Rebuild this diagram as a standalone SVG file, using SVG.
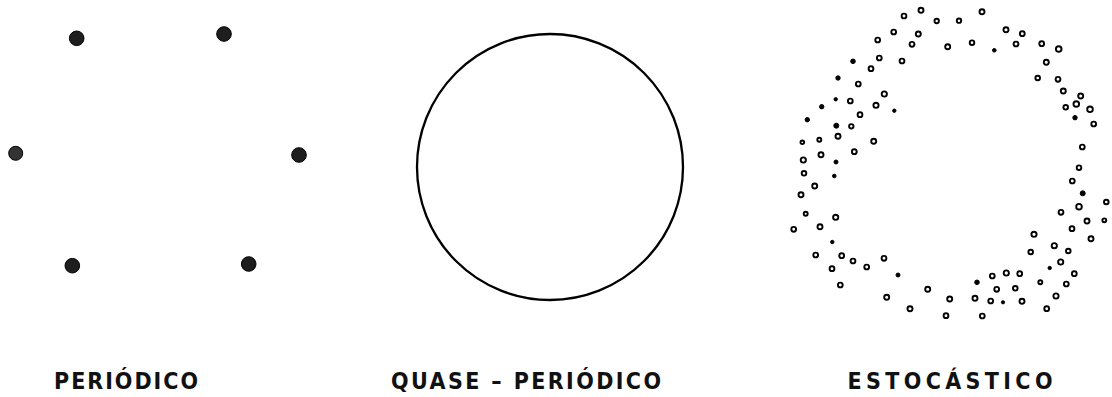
<svg xmlns="http://www.w3.org/2000/svg" width="1112" height="397" viewBox="0 0 1112 397">
<style>
.pd{fill:#1e1e1e;stroke:#000;stroke-width:1}
.r{fill:#fff;stroke:#000;stroke-width:1.9}
.s{fill:#000;stroke:#000;stroke-width:1}
.lbl{font-family:"DejaVu Sans Condensed","DejaVu Sans","Liberation Sans",sans-serif;font-stretch:condensed;font-size:23px;font-weight:bold;fill:#111}
</style>
<rect width="1112" height="397" fill="#fff"/>
<g id="periodico">
<circle class="pd" cx="76.7" cy="38.3" r="7.3"/>
<circle class="pd" cx="224" cy="34" r="7.3"/>
<circle class="pd" cx="15.7" cy="153.3" r="7" style="fill:#333"/>
<circle class="pd" cx="299" cy="155" r="7.3"/>
<circle class="pd" cx="72.3" cy="265.7" r="7.3"/>
<circle class="pd" cx="248.7" cy="264" r="7.3"/>
<text class="lbl" x="54" y="389" textLength="144" lengthAdjust="spacing">PERIÓDICO</text>
</g>
<g id="quase-periodico">
<circle cx="550" cy="167" r="133" fill="none" stroke="#000" stroke-width="2.3"/>
<text class="lbl" x="391" y="389" textLength="270" lengthAdjust="spacing">QUASE – PERIÓDICO</text>
</g>
<g id="estocastico">
<circle class="r" cx="904" cy="16" r="2.4"/>
<circle class="r" cx="921" cy="10.3" r="2.5"/>
<circle class="r" cx="936.7" cy="21" r="2.2"/>
<circle class="r" cx="959" cy="20.7" r="2.2"/>
<circle class="r" cx="982" cy="11.7" r="2.5"/>
<circle class="r" cx="893.7" cy="32" r="2.4"/>
<circle class="r" cx="918.3" cy="34" r="2.5"/>
<circle class="r" cx="1006" cy="29.7" r="2.5"/>
<circle class="r" cx="1022.3" cy="33.7" r="2.4"/>
<circle class="r" cx="877.7" cy="40" r="2.4"/>
<circle class="r" cx="912" cy="44.3" r="2.4"/>
<circle class="r" cx="947.7" cy="46.7" r="2.5"/>
<circle class="r" cx="972" cy="42.7" r="2.3"/>
<circle class="s" cx="994.3" cy="50.3" r="1.8"/>
<circle class="r" cx="1016" cy="44" r="2.4"/>
<circle class="r" cx="1041.7" cy="43.7" r="2.4"/>
<circle class="r" cx="1058.7" cy="49" r="2.8"/>
<circle class="s" cx="853" cy="61.3" r="2.3"/>
<circle class="r" cx="879.3" cy="58" r="2.4"/>
<circle class="r" cx="902" cy="61" r="2.4"/>
<circle class="r" cx="871" cy="68.7" r="2.4"/>
<circle class="r" cx="1046.3" cy="62.3" r="2.5"/>
<circle class="s" cx="838" cy="78" r="2.2"/>
<circle class="r" cx="858.3" cy="84" r="2.4"/>
<circle class="r" cx="1037.7" cy="78" r="2.3"/>
<circle class="r" cx="1058" cy="79.3" r="2.4"/>
<circle class="r" cx="884.3" cy="94" r="2.6"/>
<circle class="r" cx="1063.3" cy="91" r="2.5"/>
<circle class="r" cx="1080.7" cy="96" r="2.5"/>
<circle class="s" cx="835.7" cy="99.3" r="1.7"/>
<circle class="r" cx="850.3" cy="101" r="2.4"/>
<circle class="s" cx="821.7" cy="106.7" r="2.2"/>
<circle class="r" cx="876" cy="105.3" r="2.6"/>
<circle class="s" cx="894.3" cy="110.7" r="1.7"/>
<circle class="r" cx="1065.7" cy="107.3" r="2.3"/>
<circle class="r" cx="1076.3" cy="104" r="2.8"/>
<circle class="r" cx="1090" cy="109.3" r="2.8"/>
<circle class="r" cx="860" cy="114.7" r="2.4"/>
<circle class="s" cx="807.3" cy="119.7" r="2.2"/>
<circle class="s" cx="836.3" cy="125.7" r="2.5"/>
<circle class="r" cx="851.3" cy="126.3" r="2.2"/>
<circle class="s" cx="1075" cy="117.7" r="2.2"/>
<circle class="r" cx="1093.7" cy="124" r="2.4"/>
<circle class="r" cx="802.3" cy="142.3" r="1.8"/>
<circle class="r" cx="819.3" cy="139.7" r="2"/>
<circle class="r" cx="838" cy="136.3" r="2.5"/>
<circle class="r" cx="873.7" cy="141.3" r="2.5"/>
<circle class="r" cx="1082.3" cy="147" r="2.4"/>
<circle class="r" cx="803.3" cy="160" r="2.6"/>
<circle class="r" cx="821" cy="154.7" r="2.5"/>
<circle class="s" cx="836" cy="162" r="2"/>
<circle class="r" cx="854.3" cy="151.7" r="2.4"/>
<circle class="r" cx="1079" cy="167.7" r="2.3"/>
<circle class="r" cx="804" cy="173.3" r="2.3"/>
<circle class="s" cx="834.3" cy="176" r="1.8"/>
<circle class="r" cx="814.7" cy="186" r="2.5"/>
<circle class="r" cx="801" cy="194.7" r="2.5"/>
<circle class="r" cx="805.7" cy="213.7" r="2"/>
<circle class="r" cx="835.7" cy="217.3" r="2.6"/>
<circle class="r" cx="793.7" cy="229.3" r="2.4"/>
<circle class="r" cx="820" cy="226.7" r="2.5"/>
<circle class="s" cx="832.3" cy="242" r="1.7"/>
<circle class="r" cx="815.7" cy="255" r="2.4"/>
<circle class="r" cx="841.7" cy="255.7" r="2.4"/>
<circle class="r" cx="853" cy="261" r="2.4"/>
<circle class="r" cx="866.7" cy="267" r="2.4"/>
<circle class="r" cx="884" cy="258.3" r="2.4"/>
<circle class="r" cx="832" cy="268.7" r="2.4"/>
<circle class="r" cx="840.3" cy="285" r="2.4"/>
<circle class="s" cx="898" cy="275" r="2"/>
<circle class="r" cx="886.7" cy="297.3" r="2.5"/>
<circle class="r" cx="910" cy="308.7" r="2.5"/>
<circle class="r" cx="927.7" cy="289.3" r="2.5"/>
<circle class="r" cx="949.7" cy="299" r="2.5"/>
<circle class="r" cx="946" cy="315.7" r="2.4"/>
<circle class="r" cx="975" cy="298.3" r="2.5"/>
<circle class="r" cx="982.3" cy="316" r="2.4"/>
<circle class="s" cx="977" cy="282.3" r="2.3"/>
<circle class="r" cx="992.3" cy="276" r="2.4"/>
<circle class="r" cx="1006.3" cy="273" r="2.6"/>
<circle class="r" cx="1019.7" cy="273.7" r="2.4"/>
<circle class="r" cx="996.7" cy="289.3" r="2.4"/>
<circle class="r" cx="1015.3" cy="288.3" r="2.3"/>
<circle class="r" cx="990.7" cy="301" r="2.4"/>
<circle class="s" cx="1003" cy="302.3" r="1.6"/>
<circle class="r" cx="1022" cy="301.3" r="2.5"/>
<circle class="r" cx="1046.7" cy="308.7" r="2.4"/>
<circle class="r" cx="1040.3" cy="282.3" r="2"/>
<circle class="r" cx="1056" cy="296" r="2.6"/>
<circle class="r" cx="1066.3" cy="284" r="2.4"/>
<circle class="r" cx="1074.3" cy="273.7" r="2.4"/>
<circle class="s" cx="1049.7" cy="268" r="1.7"/>
<circle class="r" cx="1060.7" cy="262" r="2.6"/>
<circle class="r" cx="1030.7" cy="252" r="2.3"/>
<circle class="r" cx="1054.3" cy="245.7" r="2.6"/>
<circle class="r" cx="1068.3" cy="251" r="2.3"/>
<circle class="r" cx="1034" cy="234.3" r="2.6"/>
<circle class="r" cx="1072" cy="228.7" r="2.4"/>
<circle class="r" cx="1091" cy="238.7" r="2.5"/>
<circle class="r" cx="1061" cy="212.3" r="2.4"/>
<circle class="r" cx="1079" cy="206.7" r="2.8"/>
<circle class="r" cx="1087" cy="221" r="2.5"/>
<circle class="r" cx="1104.3" cy="220.3" r="1.9"/>
<circle class="r" cx="1106.3" cy="202" r="2.3"/>
<circle class="s" cx="1082.7" cy="193.3" r="2.5"/>
<circle class="r" cx="1072.3" cy="181" r="2.4"/>
<text class="lbl" x="847.5" y="389" textLength="205" lengthAdjust="spacing">ESTOCÁSTICO</text>
</g>
</svg>
